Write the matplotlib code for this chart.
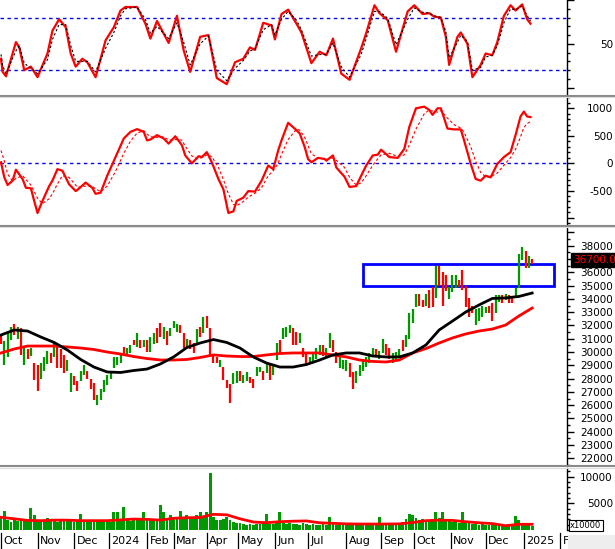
import numpy as np
import matplotlib
matplotlib.use("Agg")
import matplotlib.pyplot as plt
from matplotlib.patches import Rectangle
from matplotlib.lines import Line2D

# ---- price bars (every 2nd trading day), prices in thousands ----
bar_hi = [31.3, 30.8, 31.5, 31.9, 32.1, 31.9, 31.8, 30.4, 30.2, 30.3,
          29.2, 29.0, 29.2, 29.6, 30.1, 29.9, 30.7, 30.4, 30.2, 29.8,
          29.4, 28.4, 28.2, 27.8, 28.6, 29.0, 28.6, 28.0, 27.7, 26.8,
          27.2, 27.9, 28.3, 28.6, 29.6, 29.6, 29.8, 30.4, 30.3, 30.5,
          30.9, 31.4, 30.9, 30.9, 30.9, 31.1, 31.4, 31.8, 32.2, 31.9,
          31.6, 31.8, 32.3, 32.1, 32.0, 31.4, 31.0, 30.9, 30.7, 31.7,
          31.9, 32.6, 32.7, 31.8, 29.8, 29.6, 29.4, 28.9, 27.9, 27.6,
          28.4, 28.6, 28.6, 28.3, 28.5, 28.1, 28.0, 28.9, 28.9, 28.6,
          29.1, 29.0, 29.0, 30.7, 30.9, 31.8, 31.9, 32.0, 31.8, 31.5,
          31.4, 30.3, 29.9, 29.6, 29.9, 30.3, 30.5, 30.5, 30.3, 31.4,
          30.9, 30.0, 29.6, 29.4, 29.4, 29.2, 28.5, 28.6, 29.0, 29.5,
          29.6, 29.9, 30.3, 30.2, 30.1, 31.0, 30.6, 30.3, 29.9, 30.0,
          30.2, 30.9, 31.3, 32.9, 33.2, 34.4, 34.4, 33.9, 34.4, 34.7,
          34.9, 36.5, 36.5, 36.0, 35.8, 34.9, 35.8, 35.8, 35.4, 36.2,
          35.0, 34.1, 33.5, 33.2, 33.3, 33.5, 33.4, 33.5, 33.7, 34.3,
          34.3, 34.3, 34.4, 34.3, 34.1, 34.8, 37.4, 37.9, 37.6, 37.2,
          37.0]
bar_lo = [30.6, 29.0, 29.6, 30.9, 31.3, 31.0, 29.8, 29.0, 29.5, 29.7,
          27.9, 27.1, 28.0, 28.6, 29.1, 29.2, 29.6, 28.8, 28.8, 28.4,
          28.6, 27.0, 27.5, 27.1, 27.8, 28.3, 28.0, 27.2, 26.4, 26.0,
          26.4, 27.0, 27.5, 28.0, 28.8, 29.0, 29.2, 29.8, 29.8, 29.9,
          30.5, 30.4, 30.3, 30.4, 30.0, 30.0, 30.6, 30.7, 31.1, 31.0,
          30.5, 31.2, 31.8, 31.5, 31.4, 30.3, 30.3, 30.2, 29.9, 30.7,
          31.1, 31.4, 31.8, 29.8, 29.2, 29.2, 28.9, 27.9, 27.3, 26.2,
          27.6, 27.7, 27.8, 27.7, 27.8, 27.7, 27.3, 28.2, 28.5, 27.9,
          28.4, 27.9, 28.3, 29.4, 29.9, 31.0, 31.1, 31.4, 30.5, 30.5,
          30.7, 29.6, 29.0, 29.1, 29.2, 29.5, 29.8, 29.7, 29.6, 30.3,
          30.0, 29.2, 28.8, 28.7, 28.6, 28.1, 27.2, 27.7, 28.2, 28.6,
          28.9, 29.2, 29.8, 29.6, 29.5, 29.9, 29.8, 29.5, 29.2, 29.3,
          29.6, 30.1, 30.4, 31.0, 32.2, 33.4, 33.5, 33.4, 33.5, 33.3,
          33.4, 34.1, 35.0, 33.5, 34.6, 34.0, 34.5, 34.8, 34.9, 34.7,
          33.4, 32.6, 32.9, 32.0, 32.3, 32.6, 32.9, 32.9, 32.3, 32.9,
          33.8, 33.7, 33.9, 33.7, 33.7, 34.1, 34.8, 36.9, 36.3, 36.3,
          36.6]
bar_dir = ("rgggrgrgrg" "rrgggrgrrr" "ggrrggrrrg" "gggggggrgg" "rgrgrggrrg"
           "rgggrrgrrg" "rgrrrrgrrr" "ggrggrrggr" "grggrgggrr" "grrggggrgg"
           "rrgggrrggg" "gggrggrrgg" "grggggrrgr" "rgrrrgggrr" "rrrggggrrg"
           "grgrrgggrg" "r")
volume = [2200, 3500, 1800, 1500, 2000, 1700, 1900, 1600, 1800, 4200,
          2800, 1700, 1500, 1800, 2300, 1600, 1700, 1500, 1900, 1600,
          1700, 1800, 1500, 1600, 3000, 1700, 1500, 1800, 1600, 1900,
          1700, 1600, 1800, 1500, 3300, 3300, 1900, 4250, 1800, 1700,
          1900, 2000, 1800, 3400, 1900, 2100, 1800, 2000, 4700, 3400,
          2200, 2800, 2000, 2400, 3600, 2100, 2800, 2300, 2200, 2800,
          3400, 2500, 3400, 10750, 2500, 1900, 1800, 2000, 2500, 1900,
          1500, 1400, 1300, 1200, 1000, 1100, 1000, 1200, 1100, 1300,
          3000, 1200, 1100, 1400, 3300, 1300, 1200, 1400, 1200, 1100,
          1000, 1300, 1200, 1000, 1100, 900, 1000, 1200, 1000, 2500,
          1100, 900, 1000, 1100, 900, 1000, 1200, 900, 1000, 900,
          1000, 1100, 900, 1000, 2500, 1000, 1100, 900, 1000, 1200,
          1300, 1500, 2000, 3000, 2800, 2200, 1800, 2000, 1700, 1900,
          2000, 3300, 2300, 3300, 1800, 1600, 1500, 1700, 1400, 3300,
          1600, 1500, 1200, 1100, 1000, 1100, 900, 1000, 1100, 900,
          900, 800, 900, 800, 900, 2600, 1800, 1200, 1000, 900,
          800]

# ---- averages, one value every 8 trading days ----
ma_black = [31.28, 31.66, 31.58, 31.13, 30.72, 30.15, 29.44, 28.87, 28.50, 28.46,
            28.61, 28.72, 29.10, 29.63, 30.34, 30.68, 30.94, 30.72, 30.30, 29.63,
            29.17, 28.87, 28.87, 29.06, 29.40, 29.78, 29.93, 29.93, 29.70, 29.63,
            29.63, 29.93, 30.53, 31.66, 32.33, 33.01, 33.54, 34.03, 34.07, 34.18,
            34.44]
ma_red = [29.93, 30.23, 30.45, 30.45, 30.45, 30.38, 30.30, 30.19, 30.00, 29.85,
          29.66, 29.51, 29.40, 29.40, 29.44, 29.59, 29.78, 29.70, 29.66, 29.66,
          29.78, 29.89, 29.93, 29.93, 29.93, 29.78, 29.63, 29.40, 29.29, 29.25,
          29.40, 29.93, 30.26, 30.68, 31.06, 31.36, 31.58, 31.73, 32.03, 32.71,
          33.31]
vol_ma = [2380, 2100, 1800, 1750, 1850, 1850, 1750, 1750, 1750, 1900,
          2050, 2000, 1850, 2200, 2300, 2350, 2940, 2850, 2100, 1500,
          1370, 1560, 1650, 1700, 1350, 1250, 1150, 1120, 1120, 1120,
          1150, 1400, 1750, 1850, 1800, 1550, 1350, 1200, 810, 1070,
          1070]

# ---- stochastic ----
stoch_days = [0, 1, 3, 9, 11, 14, 18, 22, 28, 31, 35, 39, 42, 45, 49, 52, 57, 63, 68, 72,
              75, 82, 87, 90, 94, 101, 106, 110, 114, 120, 125, 130, 136, 141, 146, 150,
              153, 158, 163, 165, 169, 173, 178, 181, 187, 192, 196, 200, 205, 210, 217,
              220, 225, 228, 233, 238, 245, 249, 254, 258, 261, 265, 268, 270, 275, 277,
              281, 284, 289, 292, 296, 299, 303, 307, 310, 314, 317, 319]
stoch_k = [33, 18, 13, 52, 46, 20, 24, 12, 39, 65, 78, 69, 39, 24, 33, 29, 12, 54, 69, 88,
           92, 92, 73, 56, 76, 51, 82, 43, 18, 58, 60, 11, 4, 29, 33, 46, 43, 74, 71, 55,
           84, 89, 73, 63, 28, 41, 37, 56, 16, 9, 45, 62, 94, 85, 77, 41, 87, 94, 84, 85,
           81, 80, 58, 26, 58, 63, 50, 12, 26, 39, 37, 52, 82, 94, 88, 95, 78, 73]
stoch_d = [38, 25, 16, 42, 48, 28, 22, 16, 32, 55, 72, 72, 48, 30, 30, 30, 18, 45, 63, 82,
           90, 92, 78, 62, 70, 56, 74, 52, 26, 50, 59, 20, 8, 22, 31, 42, 44, 66, 72, 60,
           78, 87, 77, 66, 36, 38, 38, 51, 24, 12, 38, 56, 87, 87, 79, 49, 78, 91, 86, 85,
           82, 80, 64, 34, 52, 60, 53, 20, 23, 35, 37, 48, 74, 90, 89, 93, 82, 76]

# ---- MACD ----
macd_days = [0, 2, 4, 7, 9, 13, 15, 18, 20, 22, 25, 29, 31, 34, 37, 41, 45, 46, 51, 55,
             57, 60, 64, 69, 74, 78, 82, 86, 88, 90, 94, 98, 101, 105, 109, 111, 115, 119, 121, 124,
             127, 131, 134, 137, 140, 142, 146, 149, 153, 157, 161, 164, 167, 169, 173, 178, 180, 183, 185, 187,
             191, 195, 196, 200, 202, 207, 210, 214, 217, 220, 224, 227, 229, 234, 239, 243, 246, 250, 255, 258,
             260, 263, 265, 269, 273, 277, 279, 283, 286, 289, 292, 295, 299, 303, 307, 310, 313, 315, 317, 319]
macd = [15, -260, -400, -320, -120, -290, -450, -460, -690, -910,
        -690, -420, -320, -110, -140, -385, -510, -490, -355, -450,
        -560, -540, -230, 110, 450, 570, 620, 570, 415, 430,
        510, 450, 355, 490, 325, 140, -5, 125, 110, 200,
        15, -290, -480, -910, -880, -690, -630, -510, -520, -320,
        -45, -110, 230, 415, 735, 600, 540, 290, 75, 15,
        95, 75, 45, 140, -80, -250, -435, -420, -230, -45,
        140, 155, 245, 110, 95, 260, 660, 1000, 1030, 970,
        880, 1000, 1000, 630, 615, 615, 415, -15, -290, -320,
        -230, -260, -15, 110, 200, 510, 850, 940, 850, 840]
signal = [230, 40, -200, -330, -280, -230, -300, -400, -520, -640,
          -740, -650, -560, -380, -230, -260, -400, -440, -420, -420,
          -470, -520, -420, -150, 180, 400, 550, 590, 530, 480,
          470, 480, 420, 430, 420, 310, 130, 80, 100, 150,
          120, -80, -300, -560, -750, -780, -700, -620, -550, -450,
          -230, -140, 0, 160, 430, 620, 600, 470, 320, 170,
          90, 80, 70, 90, 50, -80, -260, -400, -360, -230,
          -40, 80, 150, 180, 120, 150, 330, 620, 900, 970,
          950, 930, 960, 820, 700, 640, 560, 300, 30, -170,
          -250, -250, -180, -40, 100, 250, 480, 650, 720, 760]

month_start = [0, 22, 44, 65, 88, 104, 124, 143, 165, 185, 208, 229, 249, 271, 292, 315, 337]
month_names = ["Oct", "Nov", "Dec", "2024", "Feb", "Mar", "Apr", "May", "Jun", "Jul",
               "Aug", "Sep", "Oct", "Nov", "Dec", "2025", "Feb"]
box_days = (218, 333)
box_prices = (35000, 36620)
last_price = 36700

days = np.arange(0, 2 * len(bar_hi), 2)
ma_days = days[::4]
GREEN, RED, BLUE = "#009a00", "#ff0000", "#0000ff"

W, H = 615, 549
fig = plt.figure(figsize=(W / 100, H / 100), dpi=100)
XR = 567 / W


def panel(top, bot):
    return fig.add_axes([0, 1 - bot / H, XR, (bot - top) / H])


def style(ax, ylim, major, labels, minor):
    ax.set_xlim(-0.6, 341)
    ax.set_ylim(*ylim)
    for s in ["top", "left", "bottom"]:
        ax.spines[s].set_visible(False)
    ax.spines["right"].set_linewidth(1.0)
    ax.yaxis.tick_right()
    ax.set_xticks([])
    ax.set_yticks(major)
    ax.set_yticklabels(labels)
    ax.set_yticks(minor, minor=True)
    ax.tick_params(axis="y", which="major", length=5, width=1, pad=28, labelsize=7.5, colors="black")
    ax.tick_params(axis="y", which="minor", length=2.5, width=1)
    for t in ax.get_yticklabels():
        t.set_horizontalalignment("right")


ax1 = panel(0, 94)
ax2 = panel(97, 224.5)
ax3 = panel(227, 465)
ax4 = panel(467.5, 530)

# stochastic
ax1.axhline(80, color=BLUE, lw=1, dashes=(2.5, 2.5))
ax1.axhline(20, color=BLUE, lw=1, dashes=(2.5, 2.5))
ax1.plot(stoch_days, stoch_k, color=RED, lw=1.6)
ax1.plot(stoch_days, stoch_d, color="black", lw=0.8, dashes=(2, 2))
style(ax1, (-7.2, 99.3), [0, 50, 100], ["", "50", ""], list(range(0, 101, 10)))

# MACD
ax2.axhline(0, color=BLUE, lw=1, dashes=(2.5, 2.5))
ax2.plot(macd_days, macd, color=RED, lw=1.6)
ax2.plot(macd_days, signal, color=RED, lw=0.8, dashes=(2.5, 2))
style(ax2, (-1120, 1206), [-1000, -500, 0, 500, 1000], ["", "-500", "0", "500", "1000"],
      list(range(-1100, 1201, 100)))

# price
cols = [GREEN if c == "g" else RED for c in bar_dir]
ax3.vlines(days, np.array(bar_lo) * 1000, np.array(bar_hi) * 1000, colors=cols, lw=1.6)
ax3.plot(ma_days, np.array(ma_red) * 1000, color=RED, lw=2)
ax3.plot(ma_days, np.array(ma_black) * 1000, color="black", lw=2)
ax3.add_patch(Rectangle((box_days[0], box_prices[0]), box_days[1] - box_days[0],
                        box_prices[1] - box_prices[0], fill=False, edgecolor=BLUE, lw=2))
ticks = list(range(22000, 39001, 1000))
tick_labels = [str(t) if t <= 38000 else "" for t in ticks]
style(ax3, (21500, 39407), ticks, tick_labels, list(range(21500, 39401, 500)))

# volume
ax4.bar(days, volume, width=1.7, color=GREEN, linewidth=0)
ax4.plot(ma_days, vol_ma, color=RED, lw=2)
style(ax4, (0, 11725), [5000, 10000], ["5000", "10000"], list(range(0, 11001, 1000)))

# month labels row
axm = fig.add_axes([0, 0, XR, 19 / H])
axm.set_xlim(-0.6, 341)
axm.set_ylim(0, 1)
axm.axis("off")
for d, name in zip(month_start, month_names):
    axm.plot([d, d], [0.05, 0.85], color="black", lw=0.9, clip_on=False)
    axm.text(d + 1.5, 0.42, name, fontsize=8, va="center", ha="left", clip_on=False)

# corner box bottom right
fig.add_artist(Rectangle((567.5 / W, 0), 1, 14 / H, transform=fig.transFigure,
                         facecolor="#eeeeee", edgecolor="none", zorder=10))

# panel separators
for y in (95.5, 225.8, 466.2):
    fig.add_artist(Line2D([0, 1], [1 - y / H] * 2, transform=fig.transFigure, color="#8a8a8a", lw=1.5, zorder=9))
    fig.add_artist(Line2D([0, 1], [1 - (y + 1.6) / H] * 2, transform=fig.transFigure, color="#dcdcdc", lw=0.8, zorder=9))

# last price tag
fig.text(573 / W, 1 - 260 / H, f"{last_price:.2f}", color=RED, fontsize=7.5, va="center", ha="left",
         zorder=11, bbox=dict(facecolor="black", edgecolor="black", pad=1.2))
fig.text(570 / W, 1 - 525.5 / H, "x10000", fontsize=6, va="center", ha="left", zorder=11,
         bbox=dict(facecolor="white", edgecolor="black", lw=0.8, pad=1.0))

fig.savefig("out.png", dpi=100)
